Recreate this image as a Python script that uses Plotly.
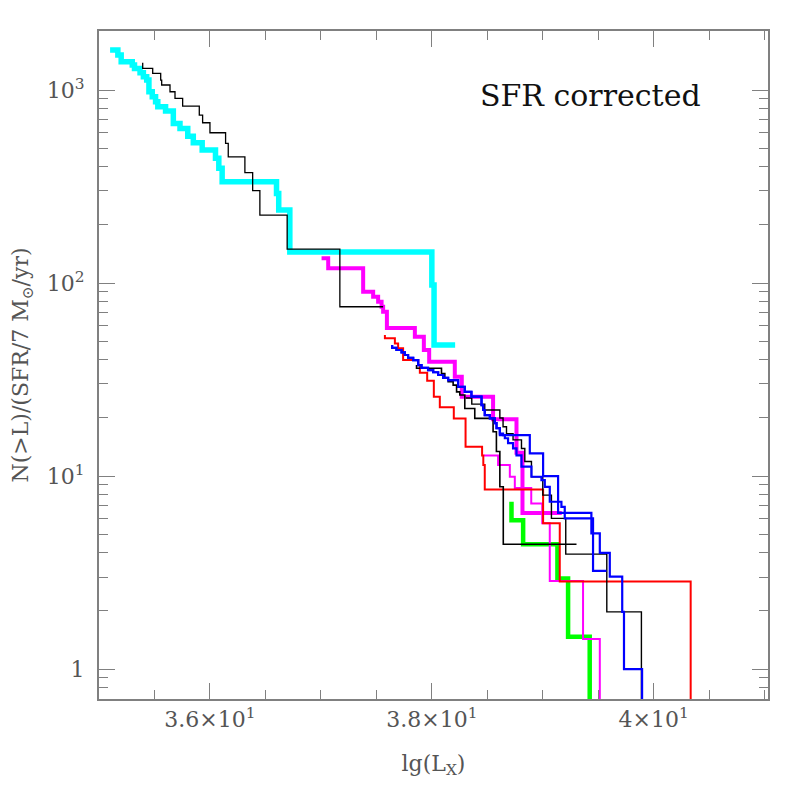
import plotly.graph_objects as go

BOTTOM = 0.3  # value below the visible range: final drop off the axis

# ---- data (x = lg L_X, y = N(>L)/(SFR/7 Msun/yr)), step vertices ----
cyan_x = [35.10, 35.17, 35.20, 35.30, 35.32, 35.37, 35.40, 35.43, 35.45, 35.48,
          35.51, 35.53, 35.60, 35.67, 35.73, 35.80, 35.85, 35.93, 36.05, 36.08,
          36.11, 36.60, 36.62, 36.72, 38.00, 38.02, 38.21]
cyan_y = [1611, 1518, 1403, 1348, 1295, 1230, 1172, 1127, 980, 923,
          869, 819, 778, 672, 633, 577, 533, 489, 443, 393,
          335, 291, 239, 145, 97.7, 47.7, 47.7]

blackA_x = [35.394, 35.394, 35.484, 35.556, 35.565, 35.640, 35.685, 35.754, 35.904,
            35.934, 36.000, 36.141, 36.165, 36.315, 36.385, 36.450, 36.696, 37.171, 37.561]
blackA_y = [1384, 1295, 1221, 1127, 1062, 980, 906, 826, 742,
            677, 601, 530, 451, 373, 301, 225, 150, 75.4, 75.4]

magA_x = [37.006, 37.066, 37.381, 37.471, 37.516, 37.547, 37.561, 37.595, 37.847,
          37.928, 37.976, 38.207, 38.270, 38.552, 38.763, 38.817, 39.171]
magA_y = [134.3, 119.2, 90.2, 84.9, 80.0, 75.4, 71.0, 58.5, 52.7,
          45.0, 39.1, 32.7, 25.8, 19.7, 13.2, 6.43, 6.43]

red_x = [37.577, 37.577, 37.667, 37.696, 37.741, 37.877, 37.892, 37.958, 38.018,
         38.072, 38.198, 38.304, 38.453, 38.464, 38.477, 39.003, 39.153, 40.333]
red_y = [53.8, 51.7, 48.7, 45.9, 39.9, 37.6, 34.3, 31.2, 25.8,
         22.7, 19.9, 14.2, 12.8, 11.4, 8.53, 5.69, 2.84, BOTTOM]

blueA_x = [37.642, 37.642, 37.681, 37.727, 37.757, 37.786, 37.832, 37.877, 37.907,
           37.966, 38.012, 38.057, 38.102, 38.147, 38.237, 38.297, 38.357, 38.448,
           38.462, 38.477, 38.523, 38.568, 38.583, 38.613, 38.642, 38.883, 39.003,
           39.138, 39.438, 39.514, 39.604, 39.716, 39.732, 39.895]
blueA_y = [47.7, 46.2, 45.0, 43.7, 42.4, 41.0, 39.9, 37.6, 36.4,
           35.4, 34.5, 33.4, 32.3, 31.4, 29.0, 27.3, 25.8, 23.3,
           22.0, 20.7, 19.9, 18.8, 17.7, 16.6, 16.3, 13.1, 10.0,
           6.45, 5.05, 4.0, 3.01, 1.98, 1.0, BOTTOM]

blueB_x = [37.642, 37.642, 37.681, 37.727, 37.757, 37.786, 37.832, 37.877, 37.907,
           37.966, 38.012, 38.057, 38.102, 38.147, 38.237, 38.297, 38.357, 38.448,
           38.462, 38.477, 38.523, 38.568, 38.583, 38.613, 38.658, 38.687, 38.732,
           38.763, 38.808, 38.898, 38.988, 39.018, 39.063, 39.168, 39.198, 39.453, 39.574]
blueB_y = [47.7, 46.2, 45.0, 43.7, 42.4, 41.0, 39.9, 37.6, 36.4,
           35.4, 34.5, 33.4, 32.3, 31.4, 29.0, 27.3, 25.8, 23.3,
           22.0, 20.7, 19.9, 18.8, 17.7, 16.3, 15.7, 14.8, 13.9,
           12.8, 11.2, 9.92, 9.53, 8.80, 7.36, 6.93, 6.04, 3.23, 3.23]

blackB_x = [37.862, 37.862, 38.087, 38.117, 38.147, 38.192, 38.223, 38.252, 38.297,
            38.387, 38.552, 38.582, 38.613, 38.644, 39.304]
blackB_y = [37.6, 36.2, 34.0, 32.1, 30.8, 29.6, 27.3, 26.3, 22.4,
            19.9, 16.97, 13.4, 8.80, 4.43, 4.43]

blackC_x = [38.306, 38.360, 38.477, 38.613, 38.642, 38.673, 38.732, 38.808, 38.838,
            38.898, 39.000, 39.078, 39.207, 39.577, 39.889]
blackC_y = [25.4, 23.6, 22.0, 20.0, 18.0, 16.6, 15.4, 13.9, 11.9,
            9.92, 7.97, 6.04, 3.94, 1.98, BOTTOM]

magB_x = [38.468, 38.597, 38.703, 38.748, 38.896, 38.995, 39.063, 39.363, 39.514]
magB_y = [12.8, 11.4, 9.92, 8.67, 7.20, 5.69, 2.86, 1.43, BOTTOM]

green_x = [38.718, 38.718, 38.823, 39.132, 39.228, 39.423]
green_y = [7.36, 5.91, 4.44, 2.95, 1.47, BOTTOM]

series = [
    (cyan_x, cyan_y, "#00FFFF", 5.5),
    (magA_x, magA_y, "#FF00FF", 4),
    (green_x, green_y, "#00FF00", 4.5),
    (magB_x, magB_y, "#FF00FF", 2),
    (red_x, red_y, "#FF0000", 2),
    (blackA_x, blackA_y, "#000000", 1.3),
    (blackB_x, blackB_y, "#000000", 1.6),
    (blackC_x, blackC_y, "#000000", 1.4),
    (blueA_x, blueA_y, "#0000FF", 2.2),
    (blueB_x, blueB_y, "#0000FF", 2.2),
]

fig = go.Figure()
for xs, ys, col, w in series:
    fig.add_trace(go.Scatter(x=xs, y=ys, mode="lines", line=dict(shape="hv", color=col, width=w),
                             showlegend=False, hoverinfo="skip"))

x_tickvals = [36, 38, 40]
x_ticktext = ["3.6×10<sup>1</sup>", "3.8×10<sup>1</sup>", "4×10<sup>1</sup>"]
y_tickvals = [1, 10, 100, 1000]
y_ticktext = ["1", "10<sup>1</sup>", "10<sup>2</sup>", "10<sup>3</sup>"]

axcol = "#808080"
tickfont = dict(family="DejaVu Serif", size=22, color="#555555")

fig.update_layout(
    width=797, height=797,
    margin=dict(l=91, r=37, t=23, b=106),
    paper_bgcolor="white", plot_bgcolor="white",
    xaxis=dict(range=[35.0, 41.03], tickvals=x_tickvals, ticktext=x_ticktext,
               ticks="inside", ticklen=16, tickwidth=1.3, tickcolor=axcol,
               minor=dict(dtick=0.5, ticks="inside", ticklen=9, tickcolor=axcol, tickwidth=1.3, showgrid=False),
               showline=True, linecolor=axcol, linewidth=2, mirror="allticks",
               showgrid=False, zeroline=False, tickfont=tickfont,
               title=dict(text="lg(L<sub>X</sub>)", font=dict(family="DejaVu Serif", size=22, color="#555555"),
                          standoff=24)),
    yaxis=dict(type="log", range=[-0.155, 3.306], tickvals=y_tickvals, ticktext=y_ticktext,
               ticks="inside", ticklen=16, tickwidth=1.3, tickcolor=axcol,
               minor=dict(dtick="D1", ticks="inside", ticklen=9, tickcolor=axcol, tickwidth=1.3, showgrid=False),
               showline=True, linecolor=axcol, linewidth=2, mirror="allticks",
               showgrid=False, zeroline=False, tickfont=tickfont, ticklabelstandoff=8,
               title=dict(text="N(>L)/(SFR/7 M<sub>⊙</sub>/yr)",
                          font=dict(family="DejaVu Serif", size=22, color="#555555"), standoff=12)),
)

fig.add_annotation(x=0.735, y=0.903, xref="paper", yref="paper", text="SFR corrected",
                   showarrow=False, xanchor="center", yanchor="middle",
                   font=dict(family="DejaVu Serif", size=30, color="#111111"))

fig.write_html("out.html")
